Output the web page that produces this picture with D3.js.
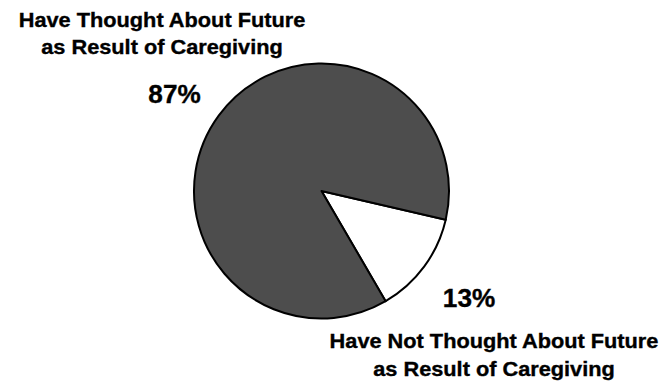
<!DOCTYPE html>
<html>
<head>
<meta charset="utf-8">
<script src="https://cdn.jsdelivr.net/npm/d3@7/dist/d3.min.js"></script>
<style>
  html, body { margin: 0; padding: 0; background: #fff; }
  svg { display: block; }
  text { font-family: "Liberation Sans", Arial, Helvetica, sans-serif; font-weight: bold; fill: #000; stroke: #000; stroke-width: 0.35px; }
</style>
</head>
<body>
<svg id="chart" width="666" height="390"></svg>
<script>
const categories = ["Have Not Thought About Future as Result of Caregiving",
                    "Have Thought About Future as Result of Caregiving"];
const values = [13, 87];
const valueLabels = ["13%", "87%"];
const colors = ["#ffffff", "#4d4d4d"];

const svg = d3.select("#chart");
const cx = 321.5, cy = 191, r = 127.5;

const startDeg = 103;
const pie = d3.pie().sort(null).value(d => d)
  .startAngle(startDeg * Math.PI / 180)
  .endAngle(startDeg * Math.PI / 180 + 2 * Math.PI);
const arcs = pie(values);
const arc = d3.arc().innerRadius(0).outerRadius(r);

const g = svg.append("g").attr("transform", `translate(${cx},${cy})`);
g.selectAll("path").data(arcs).enter().append("path")
  .attr("d", arc)
  .attr("fill", (d, i) => colors[i])
  .attr("stroke", "#000")
  .attr("stroke-width", 2)
  .attr("stroke-linejoin", "round");

// category labels (two lines each)
const catLayout = [
  { x: 494, y: 348, lines: ["Have Not Thought About Future", "as Result of Caregiving"] },
  { x: 162, y: 26.5, lines: ["Have Thought About Future", "as Result of Caregiving"] }
];
catLayout.forEach(c => {
  c.lines.forEach((ln, k) => {
    svg.append("text")
      .attr("transform", `translate(${c.x},${c.y + k * 27.5}) scale(1.11,1)`)
      .attr("text-anchor", "middle")
      .attr("font-size", "19.6px")
      .text(ln);
  });
});

// value labels
const valPos = [{ x: 469, y: 306.5 }, { x: 174.5, y: 103.3 }];
valueLabels.forEach((t, i) => {
  svg.append("text")
    .attr("transform", `translate(${valPos[i].x},${valPos[i].y}) scale(1.03,1)`)
    .attr("text-anchor", "middle")
    .attr("font-size", "25.4px")
    .text(t);
});
</script>
</body>
</html>
